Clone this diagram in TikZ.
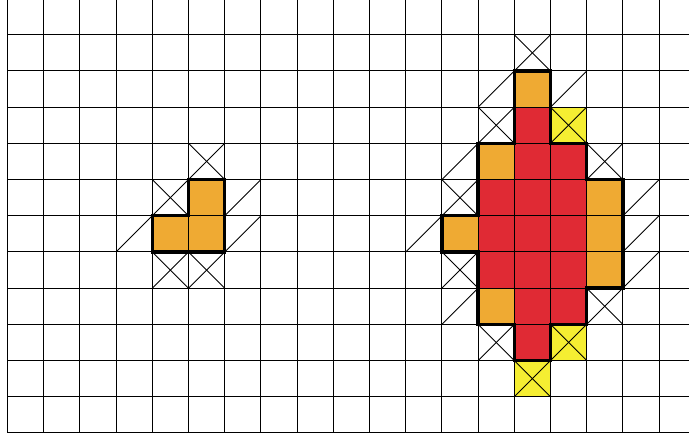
\documentclass[tikz,border=0pt]{standalone}
\usepackage{tikz}
\definecolor{cellorange}{RGB}{239,170,51}
\definecolor{cellred}{RGB}{224,42,52}
\definecolor{cellyellow}{RGB}{245,238,50}

\begin{document}
\begin{tikzpicture}[x=1cm, y=1cm,
    gridline/.style={line width=0.8pt, black},
    diag/.style={line width=0.7pt, black},
    border/.style={line width=2.6pt, black, line join=miter}
  ]
    \clip (-0.207,-0.055) rectangle (18.826,11.96);

    % coloured cells
    \foreach \x/\y in {4/5, 5/5, 5/6, 14/9, 13/7, 16/6, 12/5, 16/5, 16/4, 13/3}
      \fill[cellorange] (\x,\y) rectangle ++(1,1);
    \foreach \x/\y in {14/8, 14/7, 15/7, 13/6, 14/6, 15/6, 13/5, 14/5, 15/5,
                       13/4, 14/4, 15/4, 14/3, 15/3, 14/2}
      \fill[cellred] (\x,\y) rectangle ++(1,1);
    \foreach \x/\y in {15/8, 15/2, 14/1}
      \fill[cellyellow] (\x,\y) rectangle ++(1,1);

    \draw[gridline] (0,0) grid (19,12);

    % crossed cells
    \foreach \x/\y in {5/7, 4/6, 4/4, 5/4, 14/10, 13/8, 15/8, 16/7, 12/6,
                       12/4, 16/3, 13/2, 15/2, 14/1} {
      \draw[diag] (\x,\y) -- ++(1,1);
      \draw[diag] (\x,\y+1) -- ++(1,-1);
    }
    % single diagonals
    \foreach \x/\y in {3/5, 6/5, 6/6, 13/9, 15/9, 12/7, 17/6, 11/5, 17/5,
                       17/4, 12/3}
      \draw[diag] (\x,\y) -- ++(1,1);

    % outlines
    \draw[border] (4,5) -- (6,5) -- (6,7) -- (5,7) -- (5,6) -- (4,6) -- cycle;
    \draw[border] (14,10) -- (15,10) -- (15,8) -- (16,8) -- (16,7) -- (17,7)
      -- (17,4) -- (16,4) -- (16,3) -- (15,3) -- (15,2) -- (14,2) -- (14,3)
      -- (13,3) -- (13,5) -- (12,5) -- (12,6) -- (13,6) -- (13,8) -- (14,8)
      -- cycle;
\end{tikzpicture}
\end{document}
